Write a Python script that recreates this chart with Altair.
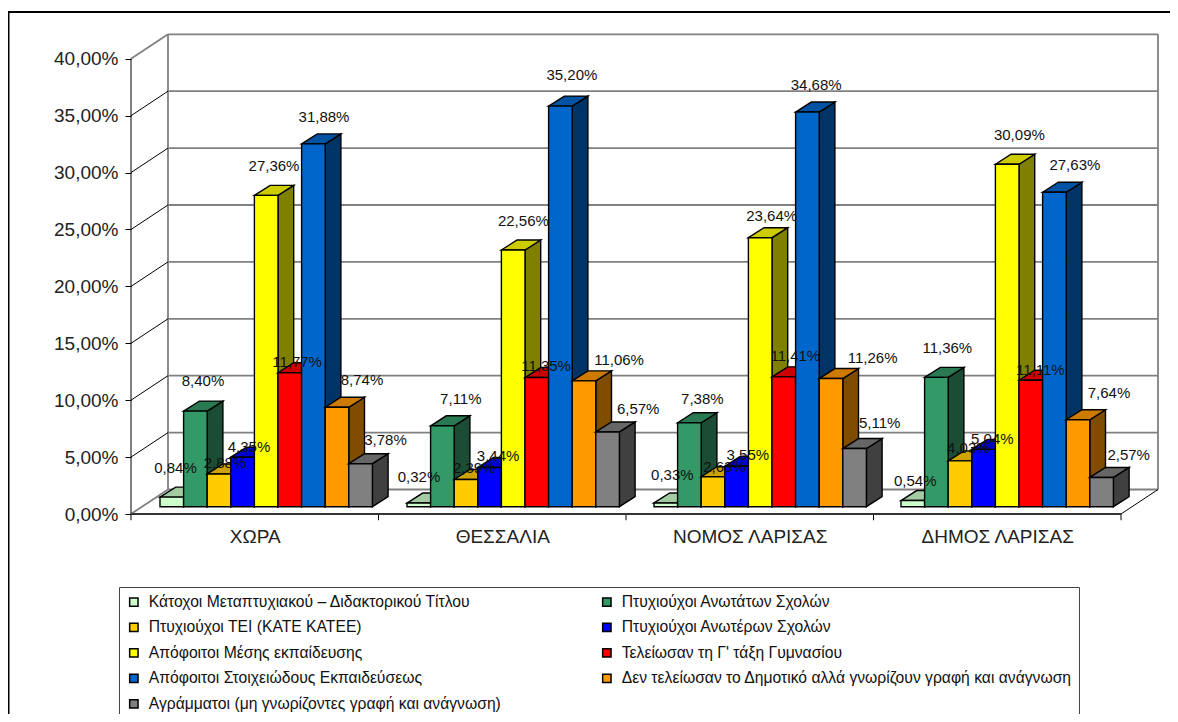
import altair as alt
import pandas as pd

CATEGORIES = ["ΧΩΡΑ", "ΘΕΣΣΑΛΙΑ", "ΝΟΜΟΣ ΛΑΡΙΣΑΣ", "ΔΗΜΟΣ ΛΑΡΙΣΑΣ"]
SERIES = [
    "Κάτοχοι Μεταπτυχιακού – Διδακτορικού Τίτλου",
    "Πτυχιούχοι Ανωτάτων Σχολών",
    "Πτυχιούχοι ΤΕΙ (ΚΑΤΕ ΚΑΤΕΕ)",
    "Πτυχιούχοι Ανωτέρων Σχολών",
    "Απόφοιτοι Μέσης εκπαίδευσης",
    "Τελείωσαν τη Γ' τάξη Γυμνασίου",
    "Απόφοιτοι Στοιχειώδους Εκπαιδεύσεως",
    "Δεν τελείωσαν το Δημοτικό αλλά γνωρίζουν γραφή και ανάγνωση",
    "Αγράμματοι (μη γνωρίζοντες γραφή και ανάγνωση)",
]
XORA = [0.84, 8.40, 2.88, 4.35, 27.36, 11.77, 31.88, 8.74, 3.78]
THESSALIA = [0.32, 7.11, 2.39, 3.44, 22.56, 11.35, 35.20, 11.06, 6.57]
NOMOS = [0.33, 7.38, 2.63, 3.55, 23.64, 11.41, 34.68, 11.26, 5.11]
DIMOS = [0.54, 11.36, 4.03, 5.04, 30.09, 11.11, 27.63, 7.64, 2.57]
VALUES = [XORA, THESSALIA, NOMOS, DIMOS]

FRONT = ["#CCFFCC", "#339966", "#FFCC00", "#0000FF", "#FFFF00", "#FF0000", "#0066CC", "#FF9900", "#808080"]
TOP = ["#A3CCA3", "#297A52", "#CCA300", "#0000CC", "#CCCC00", "#CC0000", "#0052A3", "#CC7A00", "#666666"]
SIDE = ["#668066", "#1A4D33", "#806600", "#000080", "#808000", "#800000", "#003366", "#804D00", "#404040"]

# label nudges away from each bar's front-top point (style only)
NUDGE_X = [
    [3.6, 7.4, 5.6, 5.9, 7.1, 6.4, 9.6, 23.9, 23.6],
    [0.1, 18.2, 7.8, 8.0, 9.5, 8.4, 10.5, 33.9, 29.3],
    [6.5, 12.7, 11.1, 10.7, 10.8, 10.7, 7.8, 40.5, 23.8],
    [2.4, 10.7, 8.0, 8.2, 11.5, 8.7, 19.5, 29.9, 25.8],
]
NUDGE_LIFT = [
    [29.1, 30.1, 10.9, 10.2, 29.4, 10.7, 26.9, 27.2, 23.7],
    [26.4, 26.5, 11.5, 11.5, 29.0, 11.8, 31.1, 20.8, 22.9],
    [27.9, 23.4, 10.1, 11.3, 21.7, 21.2, 27.0, 20.3, 25.2],
    [19.8, 29.1, 12.5, 10.3, 29.3, 10.3, 27.3, 26.5, 22.5],
]

# geometry of the projection
W, H = 1027, 480
PPP = 11.38                     # pixels per percentage point
DEPTH_X, DEPTH_Y = 37, 24.5 / PPP
CAT_STEP = 247.5
FRONT_W = CAT_STEP * 4
GROUP_START, GROUP_STEP, BAR_W, LABEL_STEP = 29, 247, 23.6, 23.75
BASE = 7.3 / PPP
BAR_DX, BAR_DY = 15.7, 10 / PPP
YMAX = H / PPP

faces = []
labels = []
for c, vals in enumerate(VALUES):
    for s, v in enumerate(vals):
        xl = GROUP_START + GROUP_STEP * c + BAR_W * s
        xr = xl + BAR_W
        yf, yb = v + BASE, v + BASE + BAR_DY
        b0, b1 = BASE, BASE + BAR_DY
        name = SERIES[s]
        idn = f"{c}-{s}"
        for x, y, y2 in [(xr, yf, b0), (xr + BAR_DX, yb, b1)]:
            faces.append(dict(x=x, y=y, y2=y2, key=name + "|side", face=idn + "a"))
        for x, y, y2 in [(xl, yf, yf), (xl + BAR_DX, yb, yf), (xr, yb, yf), (xr + BAR_DX, yb, yb)]:
            faces.append(dict(x=x, y=y, y2=y2, key=name + "|top", face=idn + "b"))
        for x, y, y2 in [(xl, yf, b0), (xr, yf, b0)]:
            faces.append(dict(x=x, y=y, y2=y2, key=name, face=idn + "c"))
        labels.append(dict(
            x=GROUP_START + GROUP_STEP * c + LABEL_STEP * (s + 0.5) + NUDGE_X[c][s],
            y=yf + NUDGE_LIFT[c][s] / PPP,
            text=f"{v:.2f}".replace(".", ",") + "%",
        ))

TICKS = list(range(0, 45, 5))
gray, black, heavy = [], [], []
for t in TICKS:
    # back wall grid lines
    gray.append(dict(x=DEPTH_X, y=t + DEPTH_Y, id=f"g{t}"))
    gray.append(dict(x=DEPTH_X + FRONT_W, y=t + DEPTH_Y, id=f"g{t}"))
    if 0 < t < 40:
        black.append(dict(x=0, y=t, id=f"s{t}"))
        black.append(dict(x=DEPTH_X, y=t + DEPTH_Y, id=f"s{t}"))
for xv, idn in [(DEPTH_X, "wl"), (DEPTH_X + FRONT_W, "wr")]:
    gray.append(dict(x=xv, y=DEPTH_Y, id=idn))
    gray.append(dict(x=xv, y=40 + DEPTH_Y, id=idn))
for t, idn in [(0, "f0"), (40, "f40")]:
    gray.append(dict(x=0, y=t, id=idn))
    gray.append(dict(x=DEPTH_X, y=t + DEPTH_Y, id=idn))
black += [dict(x=0, y=0, id="ya"), dict(x=0, y=40, id="ya")]
black += [dict(x=FRONT_W, y=0, id="fr"), dict(x=FRONT_W + DEPTH_X, y=DEPTH_Y, id="fr")]
for i in range(5):
    black += [dict(x=CAT_STEP * i, y=0, id=f"t{i}"), dict(x=CAT_STEP * i, y=-0.55, id=f"t{i}")]
heavy += [dict(x=0, y=0, id="base"), dict(x=FRONT_W, y=0, id="base")]

xscale = alt.Scale(domain=[0, W], nice=False, zero=False)
yscale = alt.Scale(domain=[0, YMAX], nice=False, zero=False)

keys = SERIES + [n + "|top" for n in SERIES] + [n + "|side" for n in SERIES]
rng = FRONT + TOP + SIDE

centers = [CAT_STEP * (i + 0.5) for i in range(4)]
label_expr = "[" + ",".join(f"'{c}'" for c in CATEGORIES) + f"][round((datum.value-{CAT_STEP/2})/{CAT_STEP})]"

base_x = alt.X(
    "x:Q", scale=xscale, title=None,
    axis=alt.Axis(
        values=centers, labelExpr=label_expr, ticks=False, domain=False, grid=False,
        labelFont="Liberation Sans", labelFontSize=19, labelColor="#222222",
        labelPadding=13, labelFlush=False, labelOverlap=False,
    ),
)
base_y = alt.Y(
    "y:Q", scale=yscale, title=None, stack=None,
    axis=alt.Axis(
        values=TICKS, domain=False, grid=False, tickColor="black", tickSize=6, tickWidth=1,
        labelExpr="replace(format(datum.value,'.2f'),'.',',')+'%'",
        labelFont="Liberation Sans", labelFontSize=19, labelColor="#222222", labelPadding=7,
    ),
)


def lines(rows, color, width):
    return alt.Chart(pd.DataFrame(rows)).mark_line(color=color, strokeWidth=width).encode(
        x=base_x, y=base_y, detail="id:N"
    )


bars = alt.Chart(pd.DataFrame(faces)).mark_area(
    stroke="black", strokeWidth=1.4, strokeJoin="miter", opacity=1
).encode(
    x=alt.X("x:Q", scale=xscale),
    y=alt.Y("y:Q", scale=yscale, stack=None),
    y2="y2:Q",
    detail="face:N",
    color=alt.Color(
        "key:N",
        scale=alt.Scale(domain=keys, range=rng),
        legend=alt.Legend(
            values=SERIES, title=None, orient="none", legendX=-12, legendY=553,
            direction="horizontal", columns=2, columnPadding=98, rowPadding=8.5,
            gridAlign="each",
            symbolType="square", symbolSize=70, symbolStrokeColor="black", symbolStrokeWidth=1.5,
            symbolOpacity=1, labelFont="Liberation Sans", labelFontSize=15.7, labelColor="#111111",
            labelLimit=0, labelOffset=7, strokeColor="#444444", fillColor="white", padding=7,
        ),
    ),
)

texts = alt.Chart(pd.DataFrame(labels)).mark_text(
    font="Liberation Sans", fontSize=15, color="#111111", align="center", baseline="middle"
).encode(x=alt.X("x:Q", scale=xscale), y=alt.Y("y:Q", scale=yscale), text="text:N")

frame_left = alt.Chart(pd.DataFrame({"i": [0]})).mark_rule(color="black", strokeWidth=2).encode(
    x=alt.value(-122.5), y=alt.value(-23), y2=alt.value(680)
)
frame_top = alt.Chart(pd.DataFrame({"i": [0]})).mark_rule(color="black", strokeWidth=2).encode(
    x=alt.value(-123), x2=alt.value(1039), y=alt.value(-22)
)

chart = alt.layer(
    lines(gray, "#808080", 1.8),
    lines(black, "black", 1),
    lines(heavy, "#333333", 2.2),
    bars,
    texts,
    frame_left,
    frame_top,
).properties(
    width=W, height=H,
    padding={"left": 123, "top": 26, "right": 12, "bottom": 200},
    autosize=alt.AutoSizeParams(type="none"),
    background="white",
).configure_view(stroke=None)

chart.save("out.html", embed_options={"renderer": "svg", "actions": False})
